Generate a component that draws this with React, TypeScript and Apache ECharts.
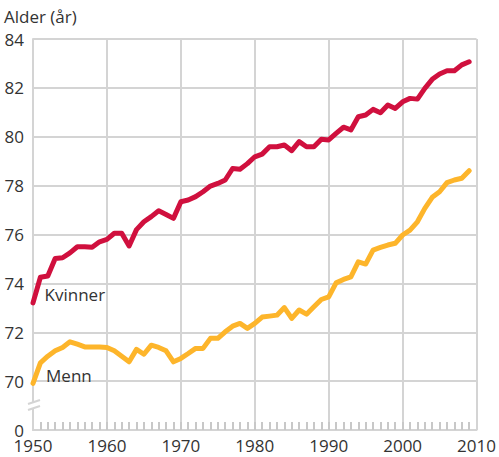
import React, { useEffect, useRef } from "react";
import * as echarts from "echarts";

const years = Array.from({ length: 60 }, (_, i) => 1950 + i);

const kvinner = [
  73.2, 74.25, 74.3, 75.02, 75.05, 75.25, 75.5, 75.5, 75.48, 75.7,
  75.8, 76.05, 76.05, 75.53, 76.2, 76.52, 76.73, 76.97, 76.82, 76.66,
  77.34, 77.41, 77.55, 77.75, 77.98, 78.09, 78.23, 78.7, 78.67, 78.9,
  79.18, 79.29, 79.59, 79.59, 79.66, 79.43, 79.8, 79.59, 79.59, 79.9,
  79.87, 80.14, 80.39, 80.28, 80.82, 80.89, 81.12, 80.98, 81.3, 81.16,
  81.43, 81.57, 81.54, 81.98, 82.35, 82.57, 82.7, 82.7, 82.94, 83.07,
];

const menn = [
  69.91, 70.75, 71.02, 71.24, 71.38, 71.61, 71.51, 71.4, 71.4, 71.4,
  71.38, 71.24, 71.02, 70.79, 71.3, 71.1, 71.47, 71.38, 71.24, 70.79,
  70.93, 71.13, 71.34, 71.34, 71.75, 71.75, 72.02, 72.25, 72.36, 72.16,
  72.36, 72.62, 72.66, 72.7, 73.01, 72.57, 72.91, 72.74, 73.04, 73.34,
  73.45, 74.02, 74.16, 74.27, 74.88, 74.79, 75.36, 75.47, 75.57, 75.64,
  75.98, 76.18, 76.52, 77.07, 77.52, 77.75, 78.12, 78.23, 78.3, 78.61,
];

// yearly minor ticks along the bottom axis (every year, 1951–2009)
const minorTickYears = Array.from({ length: 59 }, (_, i) => 1951 + i);
const axisBase = 68;
const minorTickTop = 68.33;

const yTicks = [68, 70, 72, 74, 76, 78, 80, 82, 84];
const yTickLabels = ["0", "70", "72", "74", "76", "78", "80", "82", "84"];

const FONT = "'Open Sans', sans-serif";
const GRID = "#d4d4d4";
const TICK = "#c8c8c8";
const TEXT = "#333333";

export default function App() {
  const ref = useRef<HTMLDivElement>(null);
  useEffect(() => {
    if (!ref.current) return;
    const chart = echarts.init(ref.current, null, { renderer: "svg" });
    chart.setOption({
      animation: false,
      textStyle: { fontFamily: FONT },
      grid: { left: 33, right: 17, top: 39, bottom: 27, containLabel: false },
      xAxis: {
        type: "value",
        min: 1950,
        max: 2010,
        interval: 10,
        axisLine: { show: true, lineStyle: { color: GRID, width: 2 } },
        axisTick: { show: false },
        splitLine: { show: true, lineStyle: { color: GRID, width: 2 } },
        axisLabel: {
          color: TEXT,
          fontSize: 17,
          lineHeight: 17,
          fontFamily: FONT,
          margin: 7,
          formatter: (v: number) => String(v),
        },
      },
      yAxis: {
        type: "value",
        min: 68,
        max: 84,
        interval: 2,
        name: "Alder (år)",
        nameLocation: "end",
        nameGap: 14,
        nameTextStyle: { color: TEXT, fontSize: 17, fontFamily: FONT, align: "left", padding: [0, 0, 0, -29] },
        axisLine: { show: true, lineStyle: { color: GRID, width: 2 } },
        axisTick: { show: false },
        splitLine: { show: true, lineStyle: { color: GRID, width: 2 } },
        axisLabel: {
          color: TEXT,
          fontSize: 17,
          lineHeight: 14,
          fontFamily: FONT,
          margin: 9,
          formatter: (v: number) => yTickLabels[yTicks.indexOf(v)] ?? "",
        },
      },
      graphic: [
        { type: "rect", shape: { x: 27, y: 402, width: 14, height: 7 }, style: { fill: "#ffffff" }, z: 100 },
        { type: "line", shape: { x1: 28, y1: 404, x2: 40, y2: 400 }, style: { stroke: GRID, lineWidth: 2 }, z: 101 },
        { type: "line", shape: { x1: 28, y1: 410, x2: 40, y2: 406 }, style: { stroke: GRID, lineWidth: 2 }, z: 101 },
      ],
      series: [
        {
          name: "ticks",
          type: "line",
          data: [
            [1950, axisBase],
            [2010, axisBase],
          ],
          showSymbol: false,
          silent: true,
          lineStyle: { opacity: 0 },
          z: 3,
          markLine: {
            silent: true,
            symbol: ["none", "none"],
            label: { show: false },
            lineStyle: { color: TICK, width: 2, type: "solid" },
            data: minorTickYears.map((y) => [
              { coord: [y, axisBase] },
              { coord: [y, minorTickTop] },
            ]),
          },
        },
        {
          name: "Kvinner",
          type: "line",
          data: years.map((y, i) => [y, kvinner[i]]),
          showSymbol: false,
          lineStyle: { color: "#d0103e", width: 5, cap: "round", join: "round" },
          itemStyle: { color: "#d0103e" },
          z: 5,
          markPoint: {
            symbol: "circle",
            symbolSize: 0,
            data: [{ coord: [1951.7, 73.55], value: "Kvinner" }],
            label: { show: true, position: "right", color: TEXT, fontSize: 17, fontFamily: FONT, formatter: "Kvinner", offset: [-6, 0] },
          },
        },
        {
          name: "Menn",
          type: "line",
          data: years.map((y, i) => [y, menn[i]]),
          showSymbol: false,
          lineStyle: { color: "#fdb52b", width: 5, cap: "round", join: "round" },
          itemStyle: { color: "#fdb52b" },
          z: 4,
          markPoint: {
            symbol: "circle",
            symbolSize: 0,
            data: [{ coord: [1951.9, 70.25], value: "Menn" }],
            label: { show: true, position: "right", color: TEXT, fontSize: 17, fontFamily: FONT, formatter: "Menn", offset: [-6, 0] },
          },
        },
      ],
    });
    return () => chart.dispose();
  }, []);
  return (
    <div
      ref={ref}
      style={{ position: "fixed", left: 0, top: 0, width: 499, height: 457, background: "#ffffff" }}
    />
  );
}
